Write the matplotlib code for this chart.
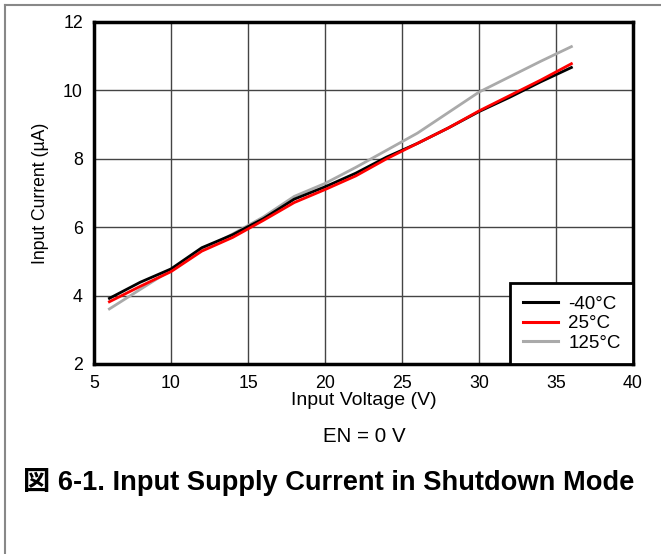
import matplotlib
matplotlib.use("Agg")
import matplotlib.pyplot as plt
from matplotlib.lines import Line2D

plt.rcParams['font.family'] = ['Liberation Sans', 'Noto Sans CJK JP', 'DejaVu Sans']

voltage = [6, 8, 10, 12, 14, 16, 18, 20, 22, 24, 26, 28, 30, 32, 34, 36]
i_m40 = [3.92, 4.39, 4.78, 5.40, 5.78, 6.25, 6.82, 7.18, 7.58, 8.05, 8.45, 8.90, 9.38, 9.80, 10.25, 10.67]
i_25 = [3.82, 4.27, 4.70, 5.30, 5.70, 6.20, 6.72, 7.10, 7.50, 8.00, 8.45, 8.90, 9.40, 9.85, 10.30, 10.78]
i_125 = [3.61, 4.18, 4.75, 5.32, 5.80, 6.30, 6.90, 7.28, 7.75, 8.25, 8.75, 9.35, 9.95, 10.40, 10.85, 11.28]
labels = ['-40°C', '25°C', '125°C']
xticks = [5, 10, 15, 20, 25, 30, 35, 40]
yticks = [2, 4, 6, 8, 10, 12]

W, H = 661, 554
fig = plt.figure(figsize=(W / 100, H / 100), dpi=100)
ax = fig.add_axes([94 / W, 1 - 364 / H, (633 - 94) / W, (364 - 22) / H])

ax.plot(voltage, i_m40, color='black', lw=2, label=labels[0], zorder=3)
ax.plot(voltage, i_125, color='#aaaaaa', lw=2, label=labels[2], zorder=2)
ax.plot(voltage, i_25, color='red', lw=2, label=labels[1], zorder=4)

ax.set_xlim(5, 40)
ax.set_ylim(2, 12)
ax.set_xticks(xticks)
ax.set_yticks(yticks)
ax.tick_params(length=0, labelsize=12.8)
ax.tick_params(axis='x', pad=8)
ax.tick_params(axis='y', pad=8)
ax.grid(True, color='#444444', lw=1)
for s in ax.spines.values():
    s.set_linewidth(2.5)
    s.set_color('black')

ax.set_xlabel('Input Voltage (V)', fontsize=14, labelpad=0)
ax.set_ylabel('Input Current (\u00b5A)', fontsize=12.7, labelpad=10)

handles = [Line2D([], [], color='black', lw=2.2),
           Line2D([], [], color='red', lw=2.2),
           Line2D([], [], color='#aaaaaa', lw=2.2)]
leg = ax.legend(handles, labels, loc='lower right', bbox_to_anchor=(1.0, 0.0),
                borderaxespad=0, fancybox=False, framealpha=1, edgecolor='black',
                fontsize=13.5, handlelength=1.9, labelspacing=0.13, borderpad=0.65,
                handletextpad=0.55)
leg.get_frame().set_linewidth(2)

fig.text(364 / W, 1 - 437 / H, 'EN = 0 V', ha='center', va='center', fontsize=14.8)
fig.text(329 / W, 1 - 482 / H, '図 6-1. Input Supply Current in Shutdown Mode',
         ha='center', va='center', fontsize=19.6, fontweight='bold')

fig.add_artist(Line2D([5 / W, 5 / W], [0, 1 - 5 / H], color='#888888', lw=1.5))
fig.add_artist(Line2D([5 / W, 1], [1 - 5 / H, 1 - 5 / H], color='#888888', lw=1.5))

fig.savefig('out.png', dpi=100)
